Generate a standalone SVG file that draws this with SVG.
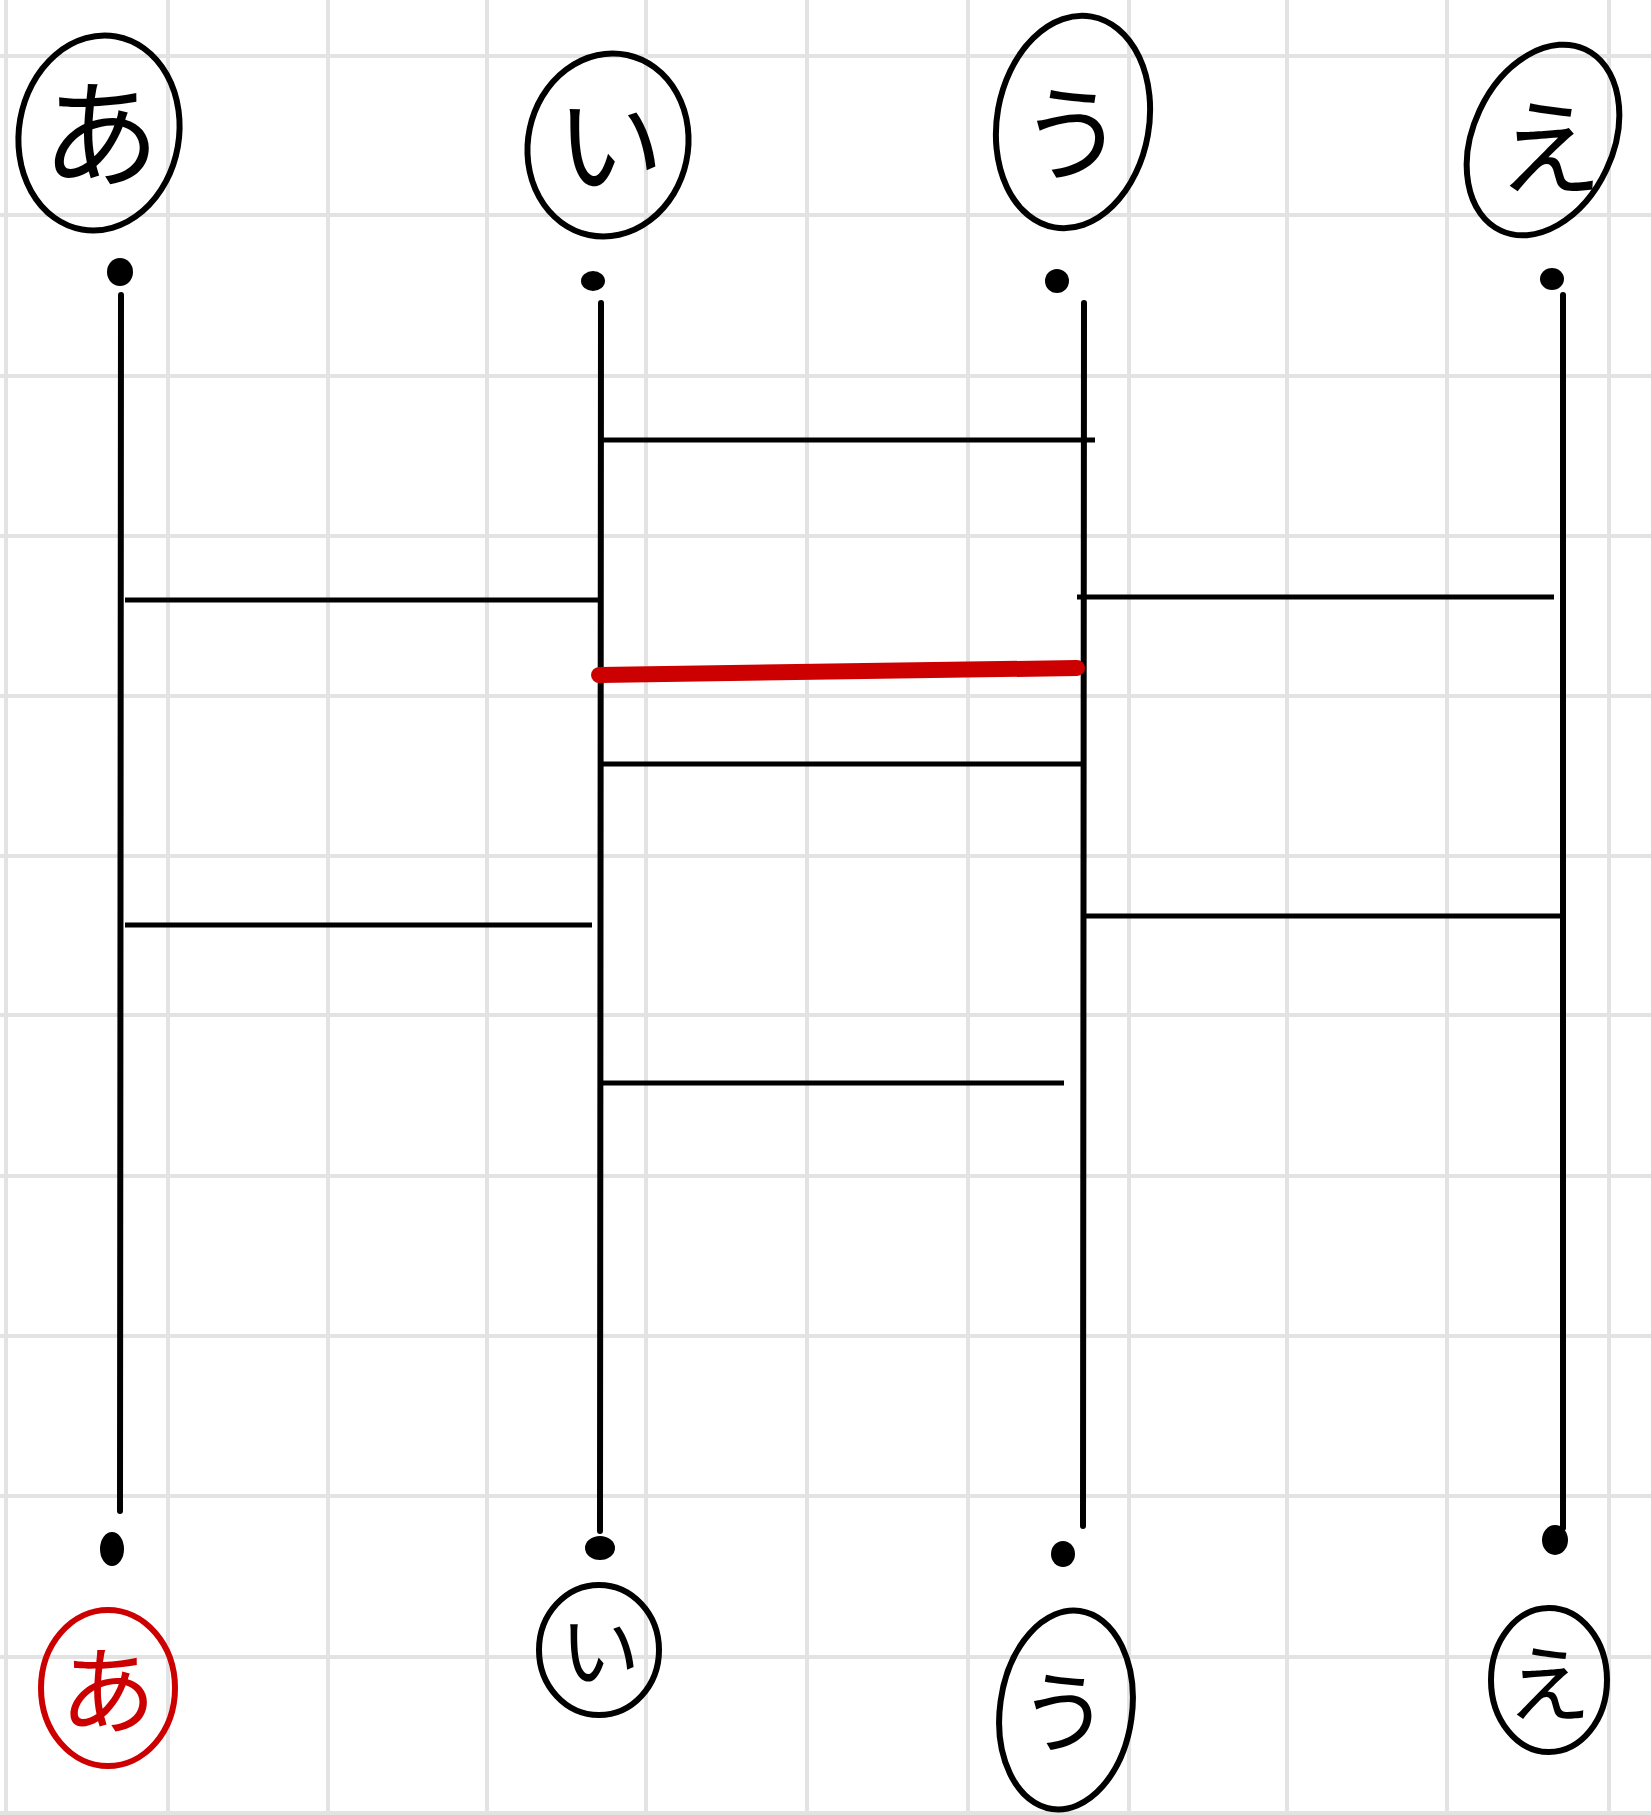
<svg xmlns="http://www.w3.org/2000/svg" width="1651" height="1815" viewBox="0 0 1651 1815">
<style>
.grid line{stroke:#e3e3e3;stroke-width:4}
.rail{stroke:#000;stroke-width:6;stroke-linecap:round;fill:none}
.rung{stroke:#000;stroke-width:5;stroke-linecap:butt}
.red{stroke:#cc0000;stroke-width:16;stroke-linecap:round}
.ring{fill:none;stroke:#000;stroke-width:6}
.ringr{fill:none;stroke:#cc0000;stroke-width:6}
.dot{fill:#000}
.lbl{font-family:"Noto Sans CJK JP","Noto Sans",sans-serif;font-weight:400;text-anchor:middle;dominant-baseline:central}
</style>
<rect width="1651" height="1815" fill="#fff"/>
<g class="grid">
<line x1="6" y1="0" x2="6" y2="1815"/><line x1="168" y1="0" x2="168" y2="1815"/><line x1="328" y1="0" x2="328" y2="1815"/><line x1="487" y1="0" x2="487" y2="1815"/><line x1="646" y1="0" x2="646" y2="1815"/><line x1="807" y1="0" x2="807" y2="1815"/><line x1="968" y1="0" x2="968" y2="1815"/><line x1="1129" y1="0" x2="1129" y2="1815"/><line x1="1287" y1="0" x2="1287" y2="1815"/><line x1="1447" y1="0" x2="1447" y2="1815"/><line x1="1609" y1="0" x2="1609" y2="1815"/>
<line x1="0" y1="56" x2="1651" y2="56"/><line x1="0" y1="215" x2="1651" y2="215"/><line x1="0" y1="376" x2="1651" y2="376"/><line x1="0" y1="536" x2="1651" y2="536"/><line x1="0" y1="696" x2="1651" y2="696"/><line x1="0" y1="856" x2="1651" y2="856"/><line x1="0" y1="1015" x2="1651" y2="1015"/><line x1="0" y1="1176" x2="1651" y2="1176"/><line x1="0" y1="1336" x2="1651" y2="1336"/><line x1="0" y1="1496" x2="1651" y2="1496"/><line x1="0" y1="1657" x2="1651" y2="1657"/><line x1="0" y1="1813" x2="1651" y2="1813"/>
</g>
<g id="connectors">
<line class="rail" x1="121" y1="295" x2="120" y2="1511"/>
<line class="rail" x1="601" y1="303" x2="600" y2="1531"/>
<line class="rail" x1="1084" y1="303" x2="1083" y2="1526"/>
<line class="rail" x1="1563" y1="295" x2="1563" y2="1528"/>
<line class="rung" x1="599" y1="440" x2="1095" y2="440"/>
<line class="rung" x1="125" y1="600" x2="599" y2="600"/>
<line class="rung" x1="1077" y1="597" x2="1554" y2="597"/>
<line class="red" x1="599" y1="675" x2="1077" y2="668"/>
<line class="rung" x1="599" y1="764" x2="1081" y2="764"/>
<line class="rung" x1="125" y1="925" x2="592" y2="925"/>
<line class="rung" x1="1084" y1="916" x2="1563" y2="916"/>
<line class="rung" x1="599" y1="1083" x2="1064" y2="1083"/>
</g>
<g id="dots">
<ellipse class="dot" cx="120" cy="272" rx="13" ry="14"/>
<ellipse class="dot" cx="593" cy="281" rx="12" ry="10"/>
<ellipse class="dot" cx="1057" cy="281" rx="12" ry="12"/>
<ellipse class="dot" cx="1552" cy="279" rx="12" ry="11"/>
<ellipse class="dot" cx="112" cy="1549" rx="12" ry="17"/>
<ellipse class="dot" cx="600" cy="1548" rx="15" ry="12"/>
<ellipse class="dot" cx="1063" cy="1554" rx="12" ry="13"/>
<ellipse class="dot" cx="1555" cy="1540" rx="13" ry="15"/>
</g>
<g id="top-a"><ellipse class="ring" cx="99" cy="133" rx="80" ry="98" transform="rotate(10 99 133)"/><text class="lbl" x="101" y="126" font-size="118">あ</text></g>
<g id="top-i"><ellipse class="ring" cx="608" cy="145" rx="80" ry="92" transform="rotate(12 608 145)"/><text class="lbl" x="610" y="138" font-size="108">い</text></g>
<g id="top-u"><ellipse class="ring" cx="1073" cy="122" rx="76" ry="107" transform="rotate(10 1073 122)"/><text class="lbl" x="1072" y="126" font-size="105">う</text></g>
<g id="top-e"><ellipse class="ring" cx="1543" cy="140" rx="70" ry="100" transform="rotate(25 1543 140)"/><text class="lbl" x="1550" y="140" font-size="105">え</text></g>
<g id="bot-a"><ellipse class="ringr" cx="108" cy="1688" rx="67" ry="78"/><text class="lbl" x="108" y="1684" font-size="96" fill="#cc0000">あ</text></g>
<g id="bot-i"><ellipse class="ring" cx="599" cy="1650" rx="60" ry="65"/><text class="lbl" x="600" y="1645" font-size="80">い</text></g>
<g id="bot-u"><ellipse class="ring" cx="1066" cy="1710" rx="66" ry="100" transform="rotate(8 1066 1710)"/><text class="lbl" x="1064" y="1706" font-size="90">う</text></g>
<g id="bot-e"><ellipse class="ring" cx="1549" cy="1680" rx="58" ry="72"/><text class="lbl" x="1549" y="1678" font-size="84">え</text></g>
</svg>
